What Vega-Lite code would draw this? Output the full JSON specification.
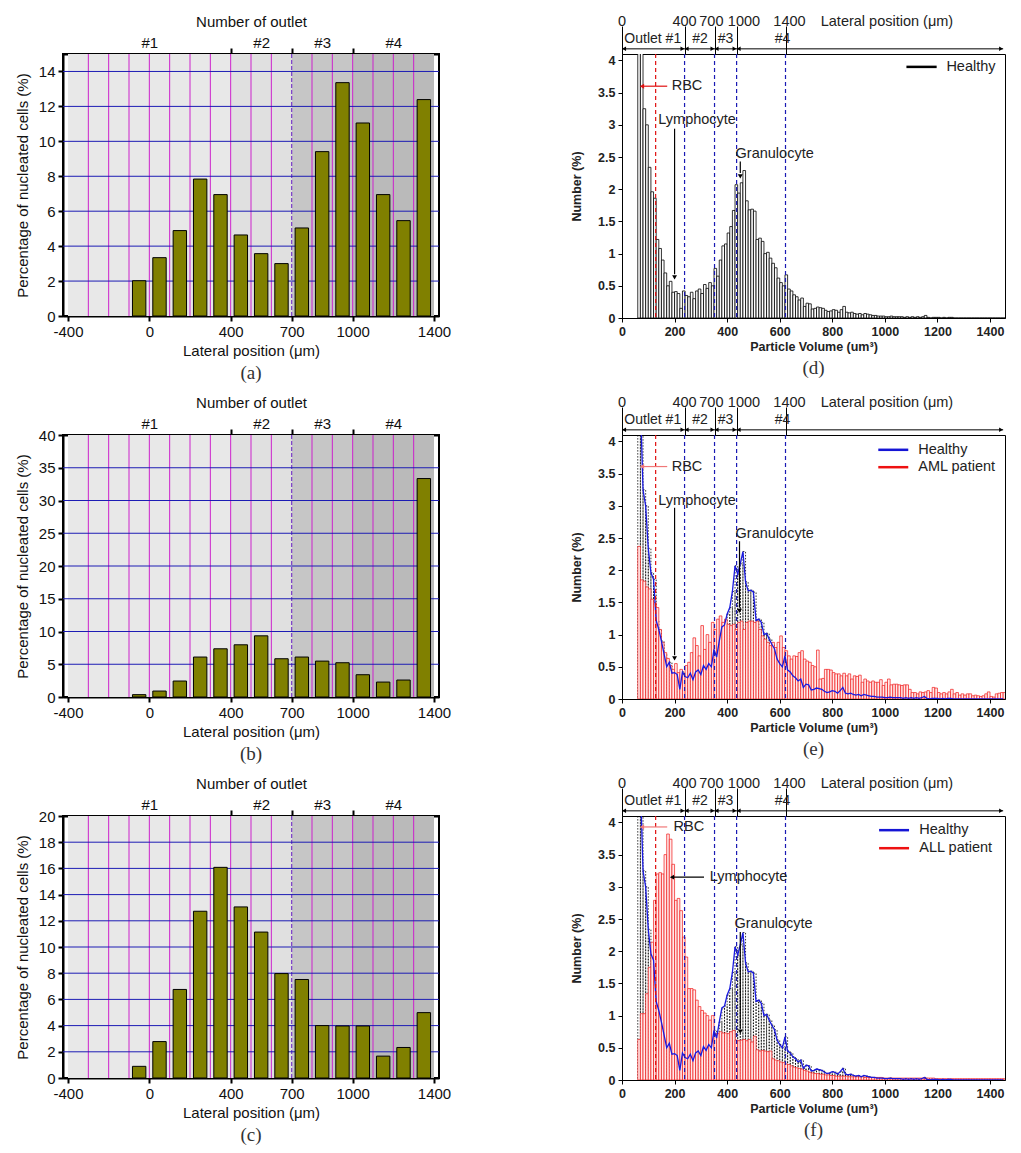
{
"$schema": "https://vega.github.io/schema/vega-lite/v6.json",
"background": "white",
"padding": {"left": 14, "top": 13, "right": 4, "bottom": 0},
"config": {"font": "Liberation Sans", "view": {"stroke": "black"}, "title": {"font": "Liberation Serif"}},
"datasets": {
"zones": [{"from":-400,"to":400,"zone":"z1"},{"from":400,"to":700,"zone":"z2"},{"from":700,"to":1000,"zone":"z3"},{"from":1000,"to":1400,"zone":"z4"}],
"vgrid": [{"x":-300},{"x":-200},{"x":-100},{"x":0},{"x":100},{"x":200},{"x":300},{"x":400},{"x":500},{"x":600},{"x":800},{"x":900},{"x":1000},{"x":1100},{"x":1200},{"x":1300}],
"edge": [{"x":700}],
"hgrid_a": [{"y":2},{"y":4},{"y":6},{"y":8},{"y":10},{"y":12},{"y":14}],
"hgrid_b": [{"y":5},{"y":10},{"y":15},{"y":20},{"y":25},{"y":30},{"y":35}],
"hgrid_c": [{"y":2},{"y":4},{"y":6},{"y":8},{"y":10},{"y":12},{"y":14},{"y":16},{"y":18}],
"bars_a": [{"pos":-50,"pct":2.02},{"pos":50,"pct":3.34},{"pos":150,"pct":4.89},{"pos":250,"pct":7.84},{"pos":350,"pct":6.95},{"pos":450,"pct":4.64},{"pos":550,"pct":3.57},{"pos":650,"pct":3.0},{"pos":750,"pct":5.04},{"pos":850,"pct":9.41},{"pos":950,"pct":13.36},{"pos":1050,"pct":11.05},{"pos":1150,"pct":6.95},{"pos":1250,"pct":5.46},{"pos":1350,"pct":12.39}],
"bars_b": [{"pos":-50,"pct":0.36},{"pos":50,"pct":0.91},{"pos":150,"pct":2.44},{"pos":250,"pct":6.1},{"pos":350,"pct":7.36},{"pos":450,"pct":7.97},{"pos":550,"pct":9.34},{"pos":650,"pct":5.84},{"pos":750,"pct":6.1},{"pos":850,"pct":5.48},{"pos":950,"pct":5.23},{"pos":1050,"pct":3.4},{"pos":1150,"pct":2.28},{"pos":1250,"pct":2.59},{"pos":1350,"pct":33.35}],
"bars_c": [{"pos":-50,"pct":0.89},{"pos":50,"pct":2.78},{"pos":150,"pct":6.76},{"pos":250,"pct":12.73},{"pos":350,"pct":16.08},{"pos":450,"pct":13.06},{"pos":550,"pct":11.14},{"pos":650,"pct":7.97},{"pos":750,"pct":7.52},{"pos":850,"pct":4.0},{"pos":950,"pct":3.97},{"pos":1050,"pct":3.97},{"pos":1150,"pct":1.67},{"pos":1250,"pct":2.33},{"pos":1350,"pct":4.99}],
"psd": [
{"lo":60,"hi":70,"h":6.0,"aml":2.37,"all":0.63},
{"lo":70,"hi":80,"h":4.6,"aml":1.85,"all":1.03},
{"lo":80,"hi":90,"h":3.25,"aml":1.83,"all":1.03},
{"lo":90,"hi":100,"h":3.0,"aml":1.74,"all":1.34},
{"lo":100,"hi":110,"h":2.34,"aml":1.71,"all":1.75},
{"lo":110,"hi":120,"h":1.96,"aml":1.55,"all":2.14},
{"lo":120,"hi":130,"h":1.86,"aml":1.5,"all":2.79},
{"lo":130,"hi":140,"h":1.22,"aml":1.42,"all":3.2},
{"lo":140,"hi":150,"h":1.08,"aml":1.08,"all":3.22},
{"lo":150,"hi":160,"h":0.9,"aml":0.88,"all":3.2},
{"lo":160,"hi":170,"h":0.7,"aml":0.72,"all":3.5},
{"lo":170,"hi":180,"h":0.5,"aml":0.63,"all":3.82},
{"lo":180,"hi":190,"h":0.57,"aml":0.52,"all":3.74},
{"lo":190,"hi":200,"h":0.4,"aml":0.46,"all":3.35},
{"lo":200,"hi":210,"h":0.41,"aml":0.55,"all":2.79},
{"lo":210,"hi":220,"h":0.38,"aml":0.41,"all":2.82},
{"lo":220,"hi":230,"h":0.15,"aml":0.46,"all":2.63},
{"lo":230,"hi":240,"h":0.42,"aml":0.39,"all":2.22},
{"lo":240,"hi":250,"h":0.35,"aml":0.52,"all":1.91},
{"lo":250,"hi":260,"h":0.33,"aml":0.57,"all":1.42},
{"lo":260,"hi":270,"h":0.4,"aml":0.72,"all":1.42},
{"lo":270,"hi":280,"h":0.3,"aml":0.95,"all":1.4},
{"lo":280,"hi":290,"h":0.42,"aml":0.83,"all":1.24},
{"lo":290,"hi":300,"h":0.45,"aml":0.67,"all":1.14},
{"lo":300,"hi":310,"h":0.38,"aml":1.14,"all":1.08},
{"lo":310,"hi":320,"h":0.52,"aml":0.77,"all":1.04},
{"lo":320,"hi":330,"h":0.46,"aml":1.0,"all":1.0},
{"lo":330,"hi":340,"h":0.55,"aml":0.88,"all":0.93},
{"lo":340,"hi":350,"h":0.5,"aml":1.19,"all":1.0},
{"lo":350,"hi":360,"h":0.77,"aml":1.08,"all":0.72},
{"lo":360,"hi":370,"h":0.65,"aml":1.24,"all":0.72},
{"lo":370,"hi":380,"h":0.9,"aml":1.29,"all":0.75},
{"lo":380,"hi":390,"h":1.12,"aml":1.19,"all":0.73},
{"lo":390,"hi":400,"h":1.15,"aml":1.24,"all":0.73},
{"lo":400,"hi":410,"h":1.32,"aml":1.16,"all":0.72},
{"lo":410,"hi":420,"h":1.42,"aml":1.14,"all":0.75},
{"lo":420,"hi":430,"h":1.67,"aml":1.16,"all":0.77},
{"lo":430,"hi":440,"h":2.07,"aml":1.08,"all":0.62},
{"lo":440,"hi":450,"h":1.94,"aml":1.19,"all":0.61},
{"lo":450,"hi":460,"h":2.1,"aml":1.21,"all":0.62},
{"lo":460,"hi":470,"h":2.29,"aml":1.08,"all":0.63},
{"lo":470,"hi":480,"h":1.82,"aml":1.19,"all":0.61},
{"lo":480,"hi":490,"h":1.68,"aml":1.21,"all":0.63},
{"lo":490,"hi":500,"h":1.69,"aml":1.21,"all":0.59},
{"lo":500,"hi":510,"h":1.66,"aml":1.19,"all":0.68},
{"lo":510,"hi":520,"h":1.22,"aml":1.21,"all":0.47},
{"lo":520,"hi":530,"h":1.24,"aml":1.08,"all":0.45},
{"lo":530,"hi":540,"h":1.19,"aml":0.98,"all":0.46},
{"lo":540,"hi":550,"h":1.0,"aml":0.93,"all":0.45},
{"lo":550,"hi":560,"h":1.02,"aml":0.88,"all":0.44},
{"lo":560,"hi":570,"h":0.93,"aml":0.83,"all":0.45},
{"lo":570,"hi":580,"h":0.85,"aml":0.88,"all":0.33},
{"lo":580,"hi":590,"h":0.78,"aml":0.8,"all":0.31},
{"lo":590,"hi":600,"h":0.62,"aml":0.88,"all":0.3},
{"lo":600,"hi":610,"h":0.55,"aml":0.98,"all":0.28},
{"lo":610,"hi":620,"h":0.5,"aml":0.8,"all":0.27},
{"lo":620,"hi":630,"h":0.67,"aml":0.75,"all":0.25},
{"lo":630,"hi":640,"h":0.45,"aml":0.67,"all":0.24},
{"lo":640,"hi":650,"h":0.42,"aml":0.62,"all":0.22},
{"lo":650,"hi":660,"h":0.36,"aml":0.67,"all":0.2},
{"lo":660,"hi":670,"h":0.33,"aml":0.66,"all":0.19},
{"lo":670,"hi":680,"h":0.28,"aml":0.72,"all":0.18},
{"lo":680,"hi":690,"h":0.31,"aml":0.75,"all":0.17},
{"lo":690,"hi":700,"h":0.18,"aml":0.62,"all":0.15},
{"lo":700,"hi":710,"h":0.23,"aml":0.59,"all":0.14},
{"lo":710,"hi":720,"h":0.22,"aml":0.57,"all":0.12},
{"lo":720,"hi":730,"h":0.14,"aml":0.52,"all":0.11},
{"lo":730,"hi":740,"h":0.15,"aml":0.5,"all":0.1},
{"lo":740,"hi":750,"h":0.17,"aml":0.76,"all":0.1},
{"lo":750,"hi":760,"h":0.16,"aml":0.31,"all":0.09},
{"lo":760,"hi":770,"h":0.15,"aml":0.32,"all":0.09},
{"lo":770,"hi":780,"h":0.12,"aml":0.46,"all":0.08},
{"lo":780,"hi":790,"h":0.1,"aml":0.46,"all":0.08},
{"lo":790,"hi":800,"h":0.11,"aml":0.45,"all":0.07},
{"lo":800,"hi":810,"h":0.13,"aml":0.41,"all":0.07},
{"lo":810,"hi":820,"h":0.12,"aml":0.39,"all":0.06},
{"lo":820,"hi":830,"h":0.09,"aml":0.39,"all":0.06},
{"lo":830,"hi":840,"h":0.13,"aml":0.36,"all":0.06},
{"lo":840,"hi":850,"h":0.18,"aml":0.4,"all":0.06},
{"lo":850,"hi":860,"h":0.09,"aml":0.36,"all":0.06},
{"lo":860,"hi":870,"h":0.08,"aml":0.39,"all":0.05},
{"lo":870,"hi":880,"h":0.09,"aml":0.31,"all":0.05},
{"lo":880,"hi":890,"h":0.07,"aml":0.36,"all":0.05},
{"lo":890,"hi":900,"h":0.06,"aml":0.35,"all":0.05},
{"lo":900,"hi":910,"h":0.07,"aml":0.37,"all":0.05},
{"lo":910,"hi":920,"h":0.05,"aml":0.26,"all":0.05},
{"lo":920,"hi":930,"h":0.07,"aml":0.31,"all":0.04},
{"lo":930,"hi":940,"h":0.06,"aml":0.28,"all":0.04},
{"lo":940,"hi":950,"h":0.05,"aml":0.26,"all":0.04},
{"lo":950,"hi":960,"h":0.04,"aml":0.28,"all":0.04},
{"lo":960,"hi":970,"h":0.04,"aml":0.26,"all":0.04},
{"lo":970,"hi":980,"h":0.03,"aml":0.26,"all":0.04},
{"lo":980,"hi":990,"h":0.03,"aml":0.3,"all":0.04},
{"lo":990,"hi":1000,"h":0.03,"aml":0.21,"all":0.03},
{"lo":1000,"hi":1010,"h":0.02,"aml":0.26,"all":0.03},
{"lo":1010,"hi":1020,"h":0.02,"aml":0.31,"all":0.03},
{"lo":1020,"hi":1030,"h":0.03,"aml":0.22,"all":0.03},
{"lo":1030,"hi":1040,"h":0.02,"aml":0.23,"all":0.03},
{"lo":1040,"hi":1050,"h":0.02,"aml":0.23,"all":0.03},
{"lo":1050,"hi":1060,"h":0.02,"aml":0.22,"all":0.03},
{"lo":1060,"hi":1070,"h":0.02,"aml":0.21,"all":0.03},
{"lo":1070,"hi":1080,"h":0.01,"aml":0.22,"all":0.03},
{"lo":1080,"hi":1090,"h":0.02,"aml":0.22,"all":0.03},
{"lo":1090,"hi":1100,"h":0.01,"aml":0.15,"all":0.03},
{"lo":1100,"hi":1110,"h":0.02,"aml":0.1,"all":0.03},
{"lo":1110,"hi":1120,"h":0.01,"aml":0.1,"all":0.03},
{"lo":1120,"hi":1130,"h":0.02,"aml":0.08,"all":0.03},
{"lo":1130,"hi":1140,"h":0.01,"aml":0.11,"all":0.03},
{"lo":1140,"hi":1150,"h":0.02,"aml":0.1,"all":0.03},
{"lo":1150,"hi":1160,"h":0.04,"aml":0.11,"all":0.03},
{"lo":1160,"hi":1170,"h":0.01,"aml":0.13,"all":0.03},
{"lo":1170,"hi":1180,"h":0.0,"aml":0.1,"all":0.03},
{"lo":1180,"hi":1190,"h":0.01,"aml":0.18,"all":0.03},
{"lo":1190,"hi":1200,"h":0.01,"aml":0.17,"all":0.02},
{"lo":1200,"hi":1210,"h":0.01,"aml":0.1,"all":0.02},
{"lo":1210,"hi":1220,"h":0.0,"aml":0.08,"all":0.02},
{"lo":1220,"hi":1230,"h":0.01,"aml":0.1,"all":0.02},
{"lo":1230,"hi":1240,"h":0.0,"aml":0.08,"all":0.02},
{"lo":1240,"hi":1250,"h":0.01,"aml":0.11,"all":0.02},
{"lo":1250,"hi":1260,"h":0.01,"aml":0.15,"all":0.02},
{"lo":1260,"hi":1270,"h":0.0,"aml":0.08,"all":0.02},
{"lo":1270,"hi":1280,"h":0.0,"aml":0.1,"all":0.02},
{"lo":1280,"hi":1290,"h":0.0,"aml":0.06,"all":0.02},
{"lo":1290,"hi":1300,"h":0.0,"aml":0.08,"all":0.02},
{"lo":1300,"hi":1310,"h":0.0,"aml":0.06,"all":0.02},
{"lo":1310,"hi":1320,"h":0.0,"aml":0.08,"all":0.02},
{"lo":1320,"hi":1330,"h":0.0,"aml":0.08,"all":0.02},
{"lo":1330,"hi":1340,"h":0.0,"aml":0.05,"all":0.02},
{"lo":1340,"hi":1350,"h":0.0,"aml":0.06,"all":0.02},
{"lo":1350,"hi":1360,"h":0.0,"aml":0.05,"all":0.02},
{"lo":1360,"hi":1370,"h":0.0,"aml":0.04,"all":0.02},
{"lo":1370,"hi":1380,"h":0.0,"aml":0.05,"all":0.02},
{"lo":1380,"hi":1390,"h":0.0,"aml":0.08,"all":0.02},
{"lo":1390,"hi":1400,"h":0.0,"aml":0.11,"all":0.02},
{"lo":1400,"hi":1410,"h":0.0,"aml":0.04,"all":0.02},
{"lo":1410,"hi":1420,"h":0.0,"aml":0.03,"all":0.02},
{"lo":1420,"hi":1430,"h":0.0,"aml":0.08,"all":0.02},
{"lo":1430,"hi":1440,"h":0.0,"aml":0.09,"all":0.02},
{"lo":1440,"hi":1450,"h":0.0,"aml":0.1,"all":0.02},
{"lo":1450,"hi":1460,"h":0.0,"aml":0.1,"all":0.02}
],
"vlines": [{"x":128,"kind":"rbc"},{"x":238,"kind":"outlet"},{"x":352,"kind":"outlet"},{"x":436,"kind":"outlet"},{"x":622,"kind":"outlet"}],
"toplab": [{"label":"0","x":0},{"label":"400","x":238},{"label":"700","x":340},{"label":"1000","x":464},{"label":"1400","x":637},{"label":"Lateral position (μm)","x":1008}],
"span": [{"from":0,"to":1450}],
"heads": [{"x":8,"dir":"left"},{"x":230,"dir":"right"},{"x":246,"dir":"left"},{"x":344,"dir":"right"},{"x":360,"dir":"left"},{"x":428,"dir":"right"},{"x":444,"dir":"left"},{"x":1442,"dir":"right"}],
"outlets": [{"label":"Outlet #1","x":117},{"label":"#2","x":297},{"label":"#3","x":394},{"label":"#4","x":611}],
"txt_d": [{"label":"RBC","x":189,"y":3.6},{"label":"Lymphocyte","x":138,"y":3.07},{"label":"Granulocyte","x":432,"y":2.54},{"label":"Healthy","x":1234,"y":3.9}],
"arr_d": [{"x":80,"x2":172,"y":3.6,"y2":3.6,"kind":"rbc"},{"x":200,"x2":200,"y":2.94,"y2":0.68,"kind":"arrow"},{"x":450,"x2":450,"y":2.43,"y2":2.25,"kind":"arrow"}],
"hd_d": [{"x":76,"y":3.6,"dir":"left","kind":"rbc"},{"x":200,"y":0.63,"dir":"down","kind":"arrow"},{"x":450,"y":2.2,"dir":"down","kind":"arrow"}],
"leg_d": [{"x":1082,"x2":1197,"y":3.9,"kind":"leg-black"}],
"txt_e": [{"label":"RBC","x":189,"y":3.61},{"label":"Lymphocyte","x":138,"y":3.08},{"label":"Granulocyte","x":432,"y":2.57},{"label":"Healthy","x":1127,"y":3.87},{"label":"AML patient","x":1127,"y":3.6}],
"arr_e": [{"x":80,"x2":172,"y":3.61,"y2":3.61,"kind":"rbcl"},{"x":200,"x2":200,"y":2.97,"y2":0.68,"kind":"arrow"},{"x":447,"x2":447,"y":2.45,"y2":1.42,"kind":"arrow"}],
"hd_e": [{"x":76,"y":3.61,"dir":"left","kind":"rbcl"},{"x":200,"y":0.63,"dir":"down","kind":"arrow"},{"x":447,"y":1.37,"dir":"down","kind":"arrow"}],
"leg_e": [{"x":975,"x2":1089,"y":3.87,"kind":"leg-blue"},{"x":975,"x2":1089,"y":3.6,"kind":"leg-red"}],
"txt_f": [{"label":"RBC","x":196,"y":3.93},{"label":"Lymphocyte","x":334,"y":3.15},{"label":"Granulocyte","x":428,"y":2.43},{"label":"Healthy","x":1131,"y":3.88},{"label":"ALL patient","x":1131,"y":3.6}],
"arr_f": [{"x":80,"x2":172,"y":3.93,"y2":3.93,"kind":"rbcl"},{"x":194,"x2":312,"y":3.15,"y2":3.15,"kind":"arrow"},{"x":450,"x2":450,"y":2.3,"y2":0.8,"kind":"arrow"}],
"hd_f": [{"x":76,"y":3.93,"dir":"left","kind":"rbcl"},{"x":190,"y":3.15,"dir":"left","kind":"arrow"},{"x":450,"y":0.75,"dir":"down","kind":"arrow"}],
"leg_f": [{"x":978,"x2":1092,"y":3.88,"kind":"leg-blue"},{"x":978,"x2":1092,"y":3.6,"kind":"leg-red"}]
},
"spacing": 10,
"vconcat": [
{"spacing": 118, "hconcat": [
{"width": 376, "height": 262, "view": {"stroke": "black", "strokeWidth": 2},
 "title": {"text": "(a)", "orient": "bottom", "fontSize": 19, "fontWeight": "normal", "color": "#333", "offset": 6},
 "resolve": {"axis": {"x": "independent", "y": "independent"}},
 "layer": [
  {"data": {"name": "zones"}, "mark": {"type": "rect"},
   "encoding": {"x": {"field": "from", "type": "quantitative", "scale": {"domain": [-400, 1400], "nice": false, "zero": false},
     "axis": {"orient": "top", "values": [0,400,550,700,850,1000,1200], "labelExpr": "datum.value == 0 ? '#1' : datum.value == 550 ? '#2' : datum.value == 850 ? '#3' : datum.value == 1200 ? '#4' : ''", "tickOpacity": {"condition": {"test": "datum.value == 400 || datum.value == 700 || datum.value == 1000", "value": 1}, "value": 0}, "tickSize": 6, "tickWidth": 2, "tickColor": "black", "domainColor": "black", "domainWidth": 2, "grid": false, "labelFontSize": 15, "labelColor": "#111", "labelPadding": -2, "labelFlush": false, "labelOverlap": false, "title": "Number of outlet", "titleFontSize": 15, "titleFontWeight": "normal", "titleColor": "#111", "titlePadding": 6}},
    "x2": {"field": "to"},
    "color": {"field": "zone", "type": "nominal", "legend": null, "scale": {"domain": ["z1","z2","z3","z4","rbc","rbcl","outlet","arrow","leg-black","leg-blue","leg-red"], "range": ["#e8e8e8","#e0e0e0","#c6c6c6","#bababa","#e01010","#f07878","#1a1ab4","#000000","#000000","#1515d5","#ee1111"]}}}},
  {"data": {"name": "vgrid"}, "mark": {"type": "rule", "color": "#cc22cc", "strokeWidth": 1},
   "encoding": {"x": {"field": "x", "type": "quantitative", "scale": {"domain": [-400, 1400], "nice": false, "zero": false}, "axis": null}}},
  {"data": {"name": "edge"}, "mark": {"type": "rule", "color": "#7a3cc8", "strokeWidth": 1.2, "strokeDash": [4, 2]},
   "encoding": {"x": {"field": "x", "type": "quantitative", "scale": {"domain": [-400, 1400], "nice": false, "zero": false}, "axis": null}}},
  {"data": {"name": "hgrid_a"}, "mark": {"type": "rule", "color": "#1c1cb4", "strokeWidth": 1},
   "encoding": {"y": {"field": "y", "type": "quantitative", "scale": {"domain": [0, 15], "nice": false}, "axis": null}}},
  {"data": {"name": "bars_a"}, "mark": {"type": "bar", "size": 13.4, "fill": "#808000", "stroke": "black", "strokeWidth": 1},
   "encoding": {"x": {"field": "pos", "type": "quantitative", "scale": {"domain": [-400, 1400], "nice": false, "zero": false},
     "axis": {"orient": "bottom", "values": [-400,0,400,700,1000,1400], "labelExpr": "'' + datum.value", "tickSize": 5, "tickWidth": 2, "tickColor": "black", "domainColor": "black", "domainWidth": 2, "grid": false, "labelFontSize": 15, "labelColor": "#111", "labelPadding": 3, "labelFlush": false, "labelOverlap": false, "title": "Lateral position (μm)", "titleFontSize": 15, "titleFontWeight": "normal", "titleColor": "#111", "titlePadding": 4}},
    "y": {"field": "pct", "type": "quantitative", "scale": {"domain": [0, 15], "nice": false},
     "axis": {"values": [0,2,4,6,8,10,12,14], "tickSize": 5, "tickWidth": 2, "tickColor": "black", "domainColor": "black", "domainWidth": 2, "grid": false, "labelFontSize": 15, "labelColor": "#111", "labelPadding": 3, "labelFlush": false, "title": "Percentage of nucleated cells (%)", "titleFontSize": 15, "titleFontWeight": "normal", "titleColor": "#111", "titlePadding": 8}}}}
 ]},
{"width": 383, "height": 264, "view": {"stroke": "black", "strokeWidth": 1},
 "title": {"text": "(d)", "orient": "bottom", "fontSize": 19, "fontWeight": "normal", "color": "#333", "offset": 6},
 "resolve": {"axis": {"x": "independent", "y": "independent"}},
 "layer": [
  {"data": {"name": "psd"}, "mark": {"type": "rect", "fill": "white", "stroke": "black", "strokeWidth": 0.8, "clip": true},
   "encoding": {"x": {"field": "lo", "type": "quantitative", "scale": {"domain": [0, 1457], "nice": false, "zero": false},
     "axis": {"orient": "bottom", "values": [0,200,400,600,800,1000,1200,1400], "labelExpr": "'' + datum.value", "tickSize": 4, "tickColor": "black", "domainColor": "black", "grid": false, "labelFontSize": 12.5, "labelFontWeight": "bold", "labelColor": "#222", "labelPadding": 3, "labelFlush": false, "title": "Particle Volume (um³)", "titleFontSize": 12.5, "titleFontWeight": "bold", "titleColor": "#222", "titlePadding": 3}},
    "x2": {"field": "hi"},
    "y": {"field": "h", "type": "quantitative", "scale": {"domain": [0, 4.1], "nice": false},
     "axis": {"values": [0,0.5,1,1.5,2,2.5,3,3.5,4], "format": "~g", "tickSize": 4, "tickColor": "black", "domainColor": "black", "grid": false, "labelFontSize": 12.5, "labelFontWeight": "bold", "labelColor": "#222", "labelPadding": 3, "labelFlush": false, "title": "Number (%)", "titleFontSize": 12.5, "titleFontWeight": "bold", "titleColor": "#222", "titlePadding": 14}},
    "y2": {"datum": 0}}},
  {"data": {"name": "vlines"}, "mark": {"type": "rule", "strokeWidth": 1.2, "strokeDash": [4, 3]},
   "encoding": {"x": {"field": "x", "type": "quantitative", "scale": {"domain": [0, 1457], "nice": false, "zero": false},
     "axis": {"orient": "top", "values": [0,238,352,436,622], "labels": false, "tickSize": 28, "tickColor": "black", "domain": false, "grid": false, "title": null}},
    "color": {"field": "kind", "type": "nominal", "legend": null, "scale": {"domain": ["z1","z2","z3","z4","rbc","rbcl","outlet","arrow","leg-black","leg-blue","leg-red"], "range": ["#e8e8e8","#e0e0e0","#c6c6c6","#bababa","#e01010","#f07878","#1a1ab4","#000000","#000000","#1515d5","#ee1111"]}}}},
  {"data": {"name": "toplab"}, "mark": {"type": "text", "fontSize": 14.5, "color": "#222", "baseline": "middle"},
   "encoding": {"x": {"field": "x", "type": "quantitative", "scale": {"domain": [0, 1457], "nice": false, "zero": false}, "axis": null},
    "y": {"datum": 4.6, "type": "quantitative", "scale": {"domain": [0, 4.1], "nice": false}, "axis": null},
    "text": {"field": "label"}}},
  {"data": {"name": "span"}, "mark": {"type": "rule", "color": "black", "strokeWidth": 1},
   "encoding": {"x": {"field": "from", "type": "quantitative", "scale": {"domain": [0, 1457], "nice": false, "zero": false}, "axis": null}, "x2": {"field": "to"},
    "y": {"datum": 4.18, "type": "quantitative", "scale": {"domain": [0, 4.1], "nice": false}, "axis": null}}},
  {"data": {"name": "heads"}, "mark": {"type": "point", "filled": true, "size": 20, "opacity": 1, "color": "black"},
   "encoding": {"x": {"field": "x", "type": "quantitative", "scale": {"domain": [0, 1457], "nice": false, "zero": false}, "axis": null},
    "y": {"datum": 4.18, "type": "quantitative", "scale": {"domain": [0, 4.1], "nice": false}, "axis": null},
    "shape": {"field": "dir", "type": "nominal", "legend": null, "scale": {"domain": ["left","right","down"], "range": ["triangle-left","triangle-right","triangle-down"]}}}},
  {"data": {"name": "outlets"}, "mark": {"type": "text", "fontSize": 14, "color": "#222", "baseline": "middle"},
   "encoding": {"x": {"field": "x", "type": "quantitative", "scale": {"domain": [0, 1457], "nice": false, "zero": false}, "axis": null},
    "y": {"datum": 4.34, "type": "quantitative", "scale": {"domain": [0, 4.1], "nice": false}, "axis": null},
    "text": {"field": "label"}}},
  {"data": {"name": "arr_d"}, "mark": {"type": "rule", "strokeWidth": 1.2},
   "encoding": {"x": {"field": "x", "type": "quantitative", "scale": {"domain": [0, 1457], "nice": false, "zero": false}, "axis": null}, "x2": {"field": "x2"},
    "y": {"field": "y", "type": "quantitative", "scale": {"domain": [0, 4.1], "nice": false}, "axis": null}, "y2": {"field": "y2"},
    "color": {"field": "kind", "type": "nominal", "legend": null, "scale": {"domain": ["z1","z2","z3","z4","rbc","rbcl","outlet","arrow","leg-black","leg-blue","leg-red"], "range": ["#e8e8e8","#e0e0e0","#c6c6c6","#bababa","#e01010","#f07878","#1a1ab4","#000000","#000000","#1515d5","#ee1111"]}}}},
  {"data": {"name": "hd_d"}, "mark": {"type": "point", "filled": true, "size": 24, "opacity": 1},
   "encoding": {"x": {"field": "x", "type": "quantitative", "scale": {"domain": [0, 1457], "nice": false, "zero": false}, "axis": null},
    "y": {"field": "y", "type": "quantitative", "scale": {"domain": [0, 4.1], "nice": false}, "axis": null},
    "shape": {"field": "dir", "type": "nominal", "legend": null, "scale": {"domain": ["left","right","down"], "range": ["triangle-left","triangle-right","triangle-down"]}},
    "color": {"field": "kind", "type": "nominal", "legend": null, "scale": {"domain": ["z1","z2","z3","z4","rbc","rbcl","outlet","arrow","leg-black","leg-blue","leg-red"], "range": ["#e8e8e8","#e0e0e0","#c6c6c6","#bababa","#e01010","#f07878","#1a1ab4","#000000","#000000","#1515d5","#ee1111"]}}}},
  {"data": {"name": "leg_d"}, "mark": {"type": "rule", "strokeWidth": 2.5},
   "encoding": {"x": {"field": "x", "type": "quantitative", "scale": {"domain": [0, 1457], "nice": false, "zero": false}, "axis": null}, "x2": {"field": "x2"},
    "y": {"field": "y", "type": "quantitative", "scale": {"domain": [0, 4.1], "nice": false}, "axis": null},
    "color": {"field": "kind", "type": "nominal", "legend": null, "scale": {"domain": ["z1","z2","z3","z4","rbc","rbcl","outlet","arrow","leg-black","leg-blue","leg-red"], "range": ["#e8e8e8","#e0e0e0","#c6c6c6","#bababa","#e01010","#f07878","#1a1ab4","#000000","#000000","#1515d5","#ee1111"]}}}},
  {"data": {"name": "txt_d"}, "mark": {"type": "text", "fontSize": 14.5, "color": "#222", "align": "left", "baseline": "middle"},
   "encoding": {"x": {"field": "x", "type": "quantitative", "scale": {"domain": [0, 1457], "nice": false, "zero": false}, "axis": null},
    "y": {"field": "y", "type": "quantitative", "scale": {"domain": [0, 4.1], "nice": false}, "axis": null},
    "text": {"field": "label"}}}
 ]}
]},
{"spacing": 118, "hconcat": [
{"width": 376, "height": 262, "view": {"stroke": "black", "strokeWidth": 2},
 "title": {"text": "(b)", "orient": "bottom", "fontSize": 19, "fontWeight": "normal", "color": "#333", "offset": 6},
 "resolve": {"axis": {"x": "independent", "y": "independent"}},
 "layer": [
  {"data": {"name": "zones"}, "mark": {"type": "rect"},
   "encoding": {"x": {"field": "from", "type": "quantitative", "scale": {"domain": [-400, 1400], "nice": false, "zero": false},
     "axis": {"orient": "top", "values": [0,400,550,700,850,1000,1200], "labelExpr": "datum.value == 0 ? '#1' : datum.value == 550 ? '#2' : datum.value == 850 ? '#3' : datum.value == 1200 ? '#4' : ''", "tickOpacity": {"condition": {"test": "datum.value == 400 || datum.value == 700 || datum.value == 1000", "value": 1}, "value": 0}, "tickSize": 6, "tickWidth": 2, "tickColor": "black", "domainColor": "black", "domainWidth": 2, "grid": false, "labelFontSize": 15, "labelColor": "#111", "labelPadding": -2, "labelFlush": false, "labelOverlap": false, "title": "Number of outlet", "titleFontSize": 15, "titleFontWeight": "normal", "titleColor": "#111", "titlePadding": 6}},
    "x2": {"field": "to"},
    "color": {"field": "zone", "type": "nominal", "legend": null, "scale": {"domain": ["z1","z2","z3","z4","rbc","rbcl","outlet","arrow","leg-black","leg-blue","leg-red"], "range": ["#e8e8e8","#e0e0e0","#c6c6c6","#bababa","#e01010","#f07878","#1a1ab4","#000000","#000000","#1515d5","#ee1111"]}}}},
  {"data": {"name": "vgrid"}, "mark": {"type": "rule", "color": "#cc22cc", "strokeWidth": 1},
   "encoding": {"x": {"field": "x", "type": "quantitative", "scale": {"domain": [-400, 1400], "nice": false, "zero": false}, "axis": null}}},
  {"data": {"name": "edge"}, "mark": {"type": "rule", "color": "#7a3cc8", "strokeWidth": 1.2, "strokeDash": [4, 2]},
   "encoding": {"x": {"field": "x", "type": "quantitative", "scale": {"domain": [-400, 1400], "nice": false, "zero": false}, "axis": null}}},
  {"data": {"name": "hgrid_b"}, "mark": {"type": "rule", "color": "#1c1cb4", "strokeWidth": 1},
   "encoding": {"y": {"field": "y", "type": "quantitative", "scale": {"domain": [0, 40], "nice": false}, "axis": null}}},
  {"data": {"name": "bars_b"}, "mark": {"type": "bar", "size": 13.4, "fill": "#808000", "stroke": "black", "strokeWidth": 1},
   "encoding": {"x": {"field": "pos", "type": "quantitative", "scale": {"domain": [-400, 1400], "nice": false, "zero": false},
     "axis": {"orient": "bottom", "values": [-400,0,400,700,1000,1400], "labelExpr": "'' + datum.value", "tickSize": 5, "tickWidth": 2, "tickColor": "black", "domainColor": "black", "domainWidth": 2, "grid": false, "labelFontSize": 15, "labelColor": "#111", "labelPadding": 3, "labelFlush": false, "labelOverlap": false, "title": "Lateral position (μm)", "titleFontSize": 15, "titleFontWeight": "normal", "titleColor": "#111", "titlePadding": 4}},
    "y": {"field": "pct", "type": "quantitative", "scale": {"domain": [0, 40], "nice": false},
     "axis": {"values": [0,5,10,15,20,25,30,35,40], "tickSize": 5, "tickWidth": 2, "tickColor": "black", "domainColor": "black", "domainWidth": 2, "grid": false, "labelFontSize": 15, "labelColor": "#111", "labelPadding": 3, "labelFlush": false, "title": "Percentage of nucleated cells (%)", "titleFontSize": 15, "titleFontWeight": "normal", "titleColor": "#111", "titlePadding": 8}}}}
 ]},
{"width": 383, "height": 264, "view": {"stroke": "black", "strokeWidth": 1},
 "title": {"text": "(e)", "orient": "bottom", "fontSize": 19, "fontWeight": "normal", "color": "#333", "offset": 6},
 "resolve": {"axis": {"x": "independent", "y": "independent"}},
 "layer": [
  {"data": {"name": "psd"}, "mark": {"type": "rect", "fillOpacity": 0, "stroke": "black", "strokeWidth": 0.8, "strokeDash": [1.5, 1.5], "clip": true},
   "encoding": {"x": {"field": "lo", "type": "quantitative", "scale": {"domain": [0, 1457], "nice": false, "zero": false},
     "axis": {"orient": "bottom", "values": [0,200,400,600,800,1000,1200,1400], "labelExpr": "'' + datum.value", "tickSize": 4, "tickColor": "black", "domainColor": "black", "grid": false, "labelFontSize": 12.5, "labelFontWeight": "bold", "labelColor": "#222", "labelPadding": 3, "labelFlush": false, "title": "Particle Volume (um³)", "titleFontSize": 12.5, "titleFontWeight": "bold", "titleColor": "#222", "titlePadding": 3}},
    "x2": {"field": "hi"},
    "y": {"field": "h", "type": "quantitative", "scale": {"domain": [0, 4.1], "nice": false},
     "axis": {"values": [0,0.5,1,1.5,2,2.5,3,3.5,4], "format": "~g", "tickSize": 4, "tickColor": "black", "domainColor": "black", "grid": false, "labelFontSize": 12.5, "labelFontWeight": "bold", "labelColor": "#222", "labelPadding": 3, "labelFlush": false, "title": "Number (%)", "titleFontSize": 12.5, "titleFontWeight": "bold", "titleColor": "#222", "titlePadding": 14}},
    "y2": {"datum": 0}}},
  {"data": {"name": "psd"}, "mark": {"type": "rect", "fill": "#ffeaea", "stroke": "#f01818", "strokeWidth": 0.7, "clip": true},
   "encoding": {"x": {"field": "lo", "type": "quantitative", "scale": {"domain": [0, 1457], "nice": false, "zero": false}, "axis": null},
    "x2": {"field": "hi"},
    "y": {"field": "aml", "type": "quantitative", "scale": {"domain": [0, 4.1], "nice": false}, "axis": null},
    "y2": {"datum": 0}}},
  {"data": {"name": "psd"}, "mark": {"type": "line", "color": "#1a1ae0", "strokeWidth": 1.3, "clip": true},
   "encoding": {"x": {"field": "lo", "type": "quantitative", "scale": {"domain": [0, 1457], "nice": false, "zero": false}, "axis": null},
    "y": {"field": "h", "type": "quantitative", "scale": {"domain": [0, 4.1], "nice": false}, "axis": null}}},
  {"data": {"name": "vlines"}, "mark": {"type": "rule", "strokeWidth": 1.2, "strokeDash": [4, 3]},
   "encoding": {"x": {"field": "x", "type": "quantitative", "scale": {"domain": [0, 1457], "nice": false, "zero": false},
     "axis": {"orient": "top", "values": [0,238,352,436,622], "labels": false, "tickSize": 28, "tickColor": "black", "domain": false, "grid": false, "title": null}},
    "color": {"field": "kind", "type": "nominal", "legend": null, "scale": {"domain": ["z1","z2","z3","z4","rbc","rbcl","outlet","arrow","leg-black","leg-blue","leg-red"], "range": ["#e8e8e8","#e0e0e0","#c6c6c6","#bababa","#e01010","#f07878","#1a1ab4","#000000","#000000","#1515d5","#ee1111"]}}}},
  {"data": {"name": "toplab"}, "mark": {"type": "text", "fontSize": 14.5, "color": "#222", "baseline": "middle"},
   "encoding": {"x": {"field": "x", "type": "quantitative", "scale": {"domain": [0, 1457], "nice": false, "zero": false}, "axis": null},
    "y": {"datum": 4.6, "type": "quantitative", "scale": {"domain": [0, 4.1], "nice": false}, "axis": null},
    "text": {"field": "label"}}},
  {"data": {"name": "span"}, "mark": {"type": "rule", "color": "black", "strokeWidth": 1},
   "encoding": {"x": {"field": "from", "type": "quantitative", "scale": {"domain": [0, 1457], "nice": false, "zero": false}, "axis": null}, "x2": {"field": "to"},
    "y": {"datum": 4.18, "type": "quantitative", "scale": {"domain": [0, 4.1], "nice": false}, "axis": null}}},
  {"data": {"name": "heads"}, "mark": {"type": "point", "filled": true, "size": 20, "opacity": 1, "color": "black"},
   "encoding": {"x": {"field": "x", "type": "quantitative", "scale": {"domain": [0, 1457], "nice": false, "zero": false}, "axis": null},
    "y": {"datum": 4.18, "type": "quantitative", "scale": {"domain": [0, 4.1], "nice": false}, "axis": null},
    "shape": {"field": "dir", "type": "nominal", "legend": null, "scale": {"domain": ["left","right","down"], "range": ["triangle-left","triangle-right","triangle-down"]}}}},
  {"data": {"name": "outlets"}, "mark": {"type": "text", "fontSize": 14, "color": "#222", "baseline": "middle"},
   "encoding": {"x": {"field": "x", "type": "quantitative", "scale": {"domain": [0, 1457], "nice": false, "zero": false}, "axis": null},
    "y": {"datum": 4.34, "type": "quantitative", "scale": {"domain": [0, 4.1], "nice": false}, "axis": null},
    "text": {"field": "label"}}},
  {"data": {"name": "arr_e"}, "mark": {"type": "rule", "strokeWidth": 1.2},
   "encoding": {"x": {"field": "x", "type": "quantitative", "scale": {"domain": [0, 1457], "nice": false, "zero": false}, "axis": null}, "x2": {"field": "x2"},
    "y": {"field": "y", "type": "quantitative", "scale": {"domain": [0, 4.1], "nice": false}, "axis": null}, "y2": {"field": "y2"},
    "color": {"field": "kind", "type": "nominal", "legend": null, "scale": {"domain": ["z1","z2","z3","z4","rbc","rbcl","outlet","arrow","leg-black","leg-blue","leg-red"], "range": ["#e8e8e8","#e0e0e0","#c6c6c6","#bababa","#e01010","#f07878","#1a1ab4","#000000","#000000","#1515d5","#ee1111"]}}}},
  {"data": {"name": "hd_e"}, "mark": {"type": "point", "filled": true, "size": 24, "opacity": 1},
   "encoding": {"x": {"field": "x", "type": "quantitative", "scale": {"domain": [0, 1457], "nice": false, "zero": false}, "axis": null},
    "y": {"field": "y", "type": "quantitative", "scale": {"domain": [0, 4.1], "nice": false}, "axis": null},
    "shape": {"field": "dir", "type": "nominal", "legend": null, "scale": {"domain": ["left","right","down"], "range": ["triangle-left","triangle-right","triangle-down"]}},
    "color": {"field": "kind", "type": "nominal", "legend": null, "scale": {"domain": ["z1","z2","z3","z4","rbc","rbcl","outlet","arrow","leg-black","leg-blue","leg-red"], "range": ["#e8e8e8","#e0e0e0","#c6c6c6","#bababa","#e01010","#f07878","#1a1ab4","#000000","#000000","#1515d5","#ee1111"]}}}},
  {"data": {"name": "leg_e"}, "mark": {"type": "rule", "strokeWidth": 2.5},
   "encoding": {"x": {"field": "x", "type": "quantitative", "scale": {"domain": [0, 1457], "nice": false, "zero": false}, "axis": null}, "x2": {"field": "x2"},
    "y": {"field": "y", "type": "quantitative", "scale": {"domain": [0, 4.1], "nice": false}, "axis": null},
    "color": {"field": "kind", "type": "nominal", "legend": null, "scale": {"domain": ["z1","z2","z3","z4","rbc","rbcl","outlet","arrow","leg-black","leg-blue","leg-red"], "range": ["#e8e8e8","#e0e0e0","#c6c6c6","#bababa","#e01010","#f07878","#1a1ab4","#000000","#000000","#1515d5","#ee1111"]}}}},
  {"data": {"name": "txt_e"}, "mark": {"type": "text", "fontSize": 14.5, "color": "#222", "align": "left", "baseline": "middle"},
   "encoding": {"x": {"field": "x", "type": "quantitative", "scale": {"domain": [0, 1457], "nice": false, "zero": false}, "axis": null},
    "y": {"field": "y", "type": "quantitative", "scale": {"domain": [0, 4.1], "nice": false}, "axis": null},
    "text": {"field": "label"}}}
 ]}
]},
{"spacing": 118, "hconcat": [
{"width": 376, "height": 262, "view": {"stroke": "black", "strokeWidth": 2},
 "title": {"text": "(c)", "orient": "bottom", "fontSize": 19, "fontWeight": "normal", "color": "#333", "offset": 6},
 "resolve": {"axis": {"x": "independent", "y": "independent"}},
 "layer": [
  {"data": {"name": "zones"}, "mark": {"type": "rect"},
   "encoding": {"x": {"field": "from", "type": "quantitative", "scale": {"domain": [-400, 1400], "nice": false, "zero": false},
     "axis": {"orient": "top", "values": [0,400,550,700,850,1000,1200], "labelExpr": "datum.value == 0 ? '#1' : datum.value == 550 ? '#2' : datum.value == 850 ? '#3' : datum.value == 1200 ? '#4' : ''", "tickOpacity": {"condition": {"test": "datum.value == 400 || datum.value == 700 || datum.value == 1000", "value": 1}, "value": 0}, "tickSize": 6, "tickWidth": 2, "tickColor": "black", "domainColor": "black", "domainWidth": 2, "grid": false, "labelFontSize": 15, "labelColor": "#111", "labelPadding": -2, "labelFlush": false, "labelOverlap": false, "title": "Number of outlet", "titleFontSize": 15, "titleFontWeight": "normal", "titleColor": "#111", "titlePadding": 6}},
    "x2": {"field": "to"},
    "color": {"field": "zone", "type": "nominal", "legend": null, "scale": {"domain": ["z1","z2","z3","z4","rbc","rbcl","outlet","arrow","leg-black","leg-blue","leg-red"], "range": ["#e8e8e8","#e0e0e0","#c6c6c6","#bababa","#e01010","#f07878","#1a1ab4","#000000","#000000","#1515d5","#ee1111"]}}}},
  {"data": {"name": "vgrid"}, "mark": {"type": "rule", "color": "#cc22cc", "strokeWidth": 1},
   "encoding": {"x": {"field": "x", "type": "quantitative", "scale": {"domain": [-400, 1400], "nice": false, "zero": false}, "axis": null}}},
  {"data": {"name": "edge"}, "mark": {"type": "rule", "color": "#7a3cc8", "strokeWidth": 1.2, "strokeDash": [4, 2]},
   "encoding": {"x": {"field": "x", "type": "quantitative", "scale": {"domain": [-400, 1400], "nice": false, "zero": false}, "axis": null}}},
  {"data": {"name": "hgrid_c"}, "mark": {"type": "rule", "color": "#1c1cb4", "strokeWidth": 1},
   "encoding": {"y": {"field": "y", "type": "quantitative", "scale": {"domain": [0, 20], "nice": false}, "axis": null}}},
  {"data": {"name": "bars_c"}, "mark": {"type": "bar", "size": 13.4, "fill": "#808000", "stroke": "black", "strokeWidth": 1},
   "encoding": {"x": {"field": "pos", "type": "quantitative", "scale": {"domain": [-400, 1400], "nice": false, "zero": false},
     "axis": {"orient": "bottom", "values": [-400,0,400,700,1000,1400], "labelExpr": "'' + datum.value", "tickSize": 5, "tickWidth": 2, "tickColor": "black", "domainColor": "black", "domainWidth": 2, "grid": false, "labelFontSize": 15, "labelColor": "#111", "labelPadding": 3, "labelFlush": false, "labelOverlap": false, "title": "Lateral position (μm)", "titleFontSize": 15, "titleFontWeight": "normal", "titleColor": "#111", "titlePadding": 4}},
    "y": {"field": "pct", "type": "quantitative", "scale": {"domain": [0, 20], "nice": false},
     "axis": {"values": [0,2,4,6,8,10,12,14,16,18,20], "tickSize": 5, "tickWidth": 2, "tickColor": "black", "domainColor": "black", "domainWidth": 2, "grid": false, "labelFontSize": 15, "labelColor": "#111", "labelPadding": 3, "labelFlush": false, "title": "Percentage of nucleated cells (%)", "titleFontSize": 15, "titleFontWeight": "normal", "titleColor": "#111", "titlePadding": 8}}}}
 ]},
{"width": 383, "height": 264, "view": {"stroke": "black", "strokeWidth": 1},
 "title": {"text": "(f)", "orient": "bottom", "fontSize": 19, "fontWeight": "normal", "color": "#333", "offset": 6},
 "resolve": {"axis": {"x": "independent", "y": "independent"}},
 "layer": [
  {"data": {"name": "psd"}, "mark": {"type": "rect", "fillOpacity": 0, "stroke": "black", "strokeWidth": 0.8, "strokeDash": [1.5, 1.5], "clip": true},
   "encoding": {"x": {"field": "lo", "type": "quantitative", "scale": {"domain": [0, 1457], "nice": false, "zero": false},
     "axis": {"orient": "bottom", "values": [0,200,400,600,800,1000,1200,1400], "labelExpr": "'' + datum.value", "tickSize": 4, "tickColor": "black", "domainColor": "black", "grid": false, "labelFontSize": 12.5, "labelFontWeight": "bold", "labelColor": "#222", "labelPadding": 3, "labelFlush": false, "title": "Particle Volume (um³)", "titleFontSize": 12.5, "titleFontWeight": "bold", "titleColor": "#222", "titlePadding": 3}},
    "x2": {"field": "hi"},
    "y": {"field": "h", "type": "quantitative", "scale": {"domain": [0, 4.1], "nice": false},
     "axis": {"values": [0,0.5,1,1.5,2,2.5,3,3.5,4], "format": "~g", "tickSize": 4, "tickColor": "black", "domainColor": "black", "grid": false, "labelFontSize": 12.5, "labelFontWeight": "bold", "labelColor": "#222", "labelPadding": 3, "labelFlush": false, "title": "Number (%)", "titleFontSize": 12.5, "titleFontWeight": "bold", "titleColor": "#222", "titlePadding": 14}},
    "y2": {"datum": 0}}},
  {"data": {"name": "psd"}, "mark": {"type": "rect", "fill": "#ffeaea", "stroke": "#f01818", "strokeWidth": 0.7, "clip": true},
   "encoding": {"x": {"field": "lo", "type": "quantitative", "scale": {"domain": [0, 1457], "nice": false, "zero": false}, "axis": null},
    "x2": {"field": "hi"},
    "y": {"field": "all", "type": "quantitative", "scale": {"domain": [0, 4.1], "nice": false}, "axis": null},
    "y2": {"datum": 0}}},
  {"data": {"name": "psd"}, "mark": {"type": "line", "color": "#1a1ae0", "strokeWidth": 1.3, "clip": true},
   "encoding": {"x": {"field": "lo", "type": "quantitative", "scale": {"domain": [0, 1457], "nice": false, "zero": false}, "axis": null},
    "y": {"field": "h", "type": "quantitative", "scale": {"domain": [0, 4.1], "nice": false}, "axis": null}}},
  {"data": {"name": "vlines"}, "mark": {"type": "rule", "strokeWidth": 1.2, "strokeDash": [4, 3]},
   "encoding": {"x": {"field": "x", "type": "quantitative", "scale": {"domain": [0, 1457], "nice": false, "zero": false},
     "axis": {"orient": "top", "values": [0,238,352,436,622], "labels": false, "tickSize": 28, "tickColor": "black", "domain": false, "grid": false, "title": null}},
    "color": {"field": "kind", "type": "nominal", "legend": null, "scale": {"domain": ["z1","z2","z3","z4","rbc","rbcl","outlet","arrow","leg-black","leg-blue","leg-red"], "range": ["#e8e8e8","#e0e0e0","#c6c6c6","#bababa","#e01010","#f07878","#1a1ab4","#000000","#000000","#1515d5","#ee1111"]}}}},
  {"data": {"name": "toplab"}, "mark": {"type": "text", "fontSize": 14.5, "color": "#222", "baseline": "middle"},
   "encoding": {"x": {"field": "x", "type": "quantitative", "scale": {"domain": [0, 1457], "nice": false, "zero": false}, "axis": null},
    "y": {"datum": 4.6, "type": "quantitative", "scale": {"domain": [0, 4.1], "nice": false}, "axis": null},
    "text": {"field": "label"}}},
  {"data": {"name": "span"}, "mark": {"type": "rule", "color": "black", "strokeWidth": 1},
   "encoding": {"x": {"field": "from", "type": "quantitative", "scale": {"domain": [0, 1457], "nice": false, "zero": false}, "axis": null}, "x2": {"field": "to"},
    "y": {"datum": 4.18, "type": "quantitative", "scale": {"domain": [0, 4.1], "nice": false}, "axis": null}}},
  {"data": {"name": "heads"}, "mark": {"type": "point", "filled": true, "size": 20, "opacity": 1, "color": "black"},
   "encoding": {"x": {"field": "x", "type": "quantitative", "scale": {"domain": [0, 1457], "nice": false, "zero": false}, "axis": null},
    "y": {"datum": 4.18, "type": "quantitative", "scale": {"domain": [0, 4.1], "nice": false}, "axis": null},
    "shape": {"field": "dir", "type": "nominal", "legend": null, "scale": {"domain": ["left","right","down"], "range": ["triangle-left","triangle-right","triangle-down"]}}}},
  {"data": {"name": "outlets"}, "mark": {"type": "text", "fontSize": 14, "color": "#222", "baseline": "middle"},
   "encoding": {"x": {"field": "x", "type": "quantitative", "scale": {"domain": [0, 1457], "nice": false, "zero": false}, "axis": null},
    "y": {"datum": 4.34, "type": "quantitative", "scale": {"domain": [0, 4.1], "nice": false}, "axis": null},
    "text": {"field": "label"}}},
  {"data": {"name": "arr_f"}, "mark": {"type": "rule", "strokeWidth": 1.2},
   "encoding": {"x": {"field": "x", "type": "quantitative", "scale": {"domain": [0, 1457], "nice": false, "zero": false}, "axis": null}, "x2": {"field": "x2"},
    "y": {"field": "y", "type": "quantitative", "scale": {"domain": [0, 4.1], "nice": false}, "axis": null}, "y2": {"field": "y2"},
    "color": {"field": "kind", "type": "nominal", "legend": null, "scale": {"domain": ["z1","z2","z3","z4","rbc","rbcl","outlet","arrow","leg-black","leg-blue","leg-red"], "range": ["#e8e8e8","#e0e0e0","#c6c6c6","#bababa","#e01010","#f07878","#1a1ab4","#000000","#000000","#1515d5","#ee1111"]}}}},
  {"data": {"name": "hd_f"}, "mark": {"type": "point", "filled": true, "size": 24, "opacity": 1},
   "encoding": {"x": {"field": "x", "type": "quantitative", "scale": {"domain": [0, 1457], "nice": false, "zero": false}, "axis": null},
    "y": {"field": "y", "type": "quantitative", "scale": {"domain": [0, 4.1], "nice": false}, "axis": null},
    "shape": {"field": "dir", "type": "nominal", "legend": null, "scale": {"domain": ["left","right","down"], "range": ["triangle-left","triangle-right","triangle-down"]}},
    "color": {"field": "kind", "type": "nominal", "legend": null, "scale": {"domain": ["z1","z2","z3","z4","rbc","rbcl","outlet","arrow","leg-black","leg-blue","leg-red"], "range": ["#e8e8e8","#e0e0e0","#c6c6c6","#bababa","#e01010","#f07878","#1a1ab4","#000000","#000000","#1515d5","#ee1111"]}}}},
  {"data": {"name": "leg_f"}, "mark": {"type": "rule", "strokeWidth": 2.5},
   "encoding": {"x": {"field": "x", "type": "quantitative", "scale": {"domain": [0, 1457], "nice": false, "zero": false}, "axis": null}, "x2": {"field": "x2"},
    "y": {"field": "y", "type": "quantitative", "scale": {"domain": [0, 4.1], "nice": false}, "axis": null},
    "color": {"field": "kind", "type": "nominal", "legend": null, "scale": {"domain": ["z1","z2","z3","z4","rbc","rbcl","outlet","arrow","leg-black","leg-blue","leg-red"], "range": ["#e8e8e8","#e0e0e0","#c6c6c6","#bababa","#e01010","#f07878","#1a1ab4","#000000","#000000","#1515d5","#ee1111"]}}}},
  {"data": {"name": "txt_f"}, "mark": {"type": "text", "fontSize": 14.5, "color": "#222", "align": "left", "baseline": "middle"},
   "encoding": {"x": {"field": "x", "type": "quantitative", "scale": {"domain": [0, 1457], "nice": false, "zero": false}, "axis": null},
    "y": {"field": "y", "type": "quantitative", "scale": {"domain": [0, 4.1], "nice": false}, "axis": null},
    "text": {"field": "label"}}}
 ]}
]}
]
}
